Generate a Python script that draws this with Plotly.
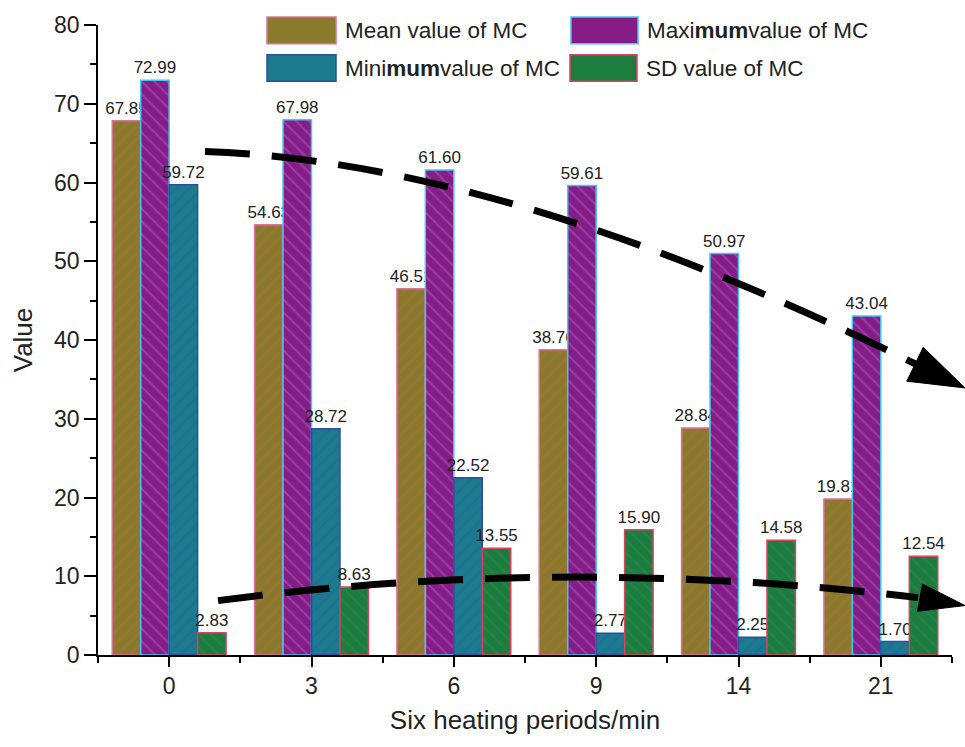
import math
import plotly.graph_objects as go

categories = ["0", "3", "6", "9", "14", "21"]
mean_vals = [67.85, 54.63, 46.51, 38.76, 28.84, 19.81]
max_vals = [72.99, 67.98, 61.60, 59.61, 50.97, 43.04]
min_vals = [59.72, 28.72, 22.52, 2.77, 2.25, 1.70]
sd_vals = [2.83, 8.63, 13.55, 15.90, 14.58, 12.54]
series_names = ["Mean value of MC", "Maximum value of MC", "Minimum value of MC", "SD value of MC"]
legend_labels = ["Mean value of MC", "Maxi<b>mum</b>value of MC", "Mini<b>mum</b>value of MC", "SD value of MC"]

W, H = 965, 747
L, R, T, B = 98, 13, 18, 92
PW, PH = W - L - R, H - T - B

def px(x, y):
    return (x - L) / PW, (H - B - y) / PH

styles = [
    dict(bg="#8a7a2e", fg="#b86a3a", line="#e070a0", shape="/"),
    dict(bg="#861d86", fg="#a86ad0", line="#40c8f0", shape="\\"),
    dict(bg="#1b7a8c", fg="#2a5fa8", line="#2b4fa0", shape="/"),
    dict(bg="#1d7d3e", fg="#2a8a5a", line="#e04060", shape="\\"),
]

xs = list(range(len(categories)))
fig = go.Figure()
for name, vals, st in zip(series_names, [mean_vals, max_vals, min_vals, sd_vals], styles):
    fig.add_trace(go.Bar(
        x=xs, y=vals, name=name,
        marker=dict(color=st["bg"], line=dict(color=st["line"], width=1.5),
                    pattern=dict(shape=st["shape"], fgcolor=st["fg"], size=9,
                                 solidity=0.2, fillmode="overlay")),
        text=[f"{v:.2f}" for v in vals], textposition="outside",
        textfont=dict(size=17, color="#222222", family="Liberation Sans"),
        constraintext="none", cliponaxis=False, showlegend=False,
    ))

shapes = []
annotations = []

# manual legend (2 x 2)
leg = [(267, 10, 336, 37), (571, 10, 638, 37), (267, 48, 336, 75), (570, 48, 637, 75)]
for (x0, y0, x1, y1), label, st in zip(leg, legend_labels, styles):
    a0 = px(x0, y1); a1 = px(x1, y0)
    shapes.append(dict(type="rect", xref="paper", yref="paper", x0=a0[0], y0=a0[1], x1=a1[0], y1=a1[1],
                       fillcolor=st["bg"], line=dict(color=st["line"], width=1.5)))
    tx, ty = px(x1 + 7, (y0 + y1) / 2)
    annotations.append(dict(xref="paper", yref="paper", x=tx, y=ty, xanchor="left", yanchor="middle",
                            text=label, showarrow=False,
                            font=dict(size=22.5, color="#222222", family="Liberation Sans")))

# trend arrows (decoration)
def quad_path(p0, c, p2):
    a = px(*p0); b = px(*c); d = px(*p2)
    return f"M{a[0]},{a[1]} Q{b[0]},{b[1]} {d[0]},{d[1]}"

def head(base, tip, hw):
    dx, dy = tip[0] - base[0], tip[1] - base[1]
    n = math.hypot(dx, dy)
    nx, ny = -dy / n, dx / n
    p1 = (base[0] + nx * hw, base[1] + ny * hw)
    p2 = (base[0] - nx * hw, base[1] - ny * hw)
    pts = [px(*p1), px(*tip), px(*p2)]
    return f"M{pts[0][0]},{pts[0][1]} L{pts[1][0]},{pts[1][1]} L{pts[2][0]},{pts[2][1]} Z"

shapes.append(dict(type="path", xref="paper", yref="paper",
                   path=quad_path((205, 146), (505, 156), (918, 362)),
                   line=dict(color="black", width=7, dash="45px,22px")))
shapes.append(dict(type="path", xref="paper", yref="paper", path=head((915, 361), (965, 385), 19),
                   fillcolor="black", line=dict(color="black", width=1)))
shapes.append(dict(type="path", xref="paper", yref="paper",
                   path=quad_path((218, 600), (566, 554), (918, 597)),
                   line=dict(color="black", width=7, dash="45px,22px")))
shapes.append(dict(type="path", xref="paper", yref="paper", path=head((920, 597), (965, 605), 14),
                   fillcolor="black", line=dict(color="black", width=1)))

fig.update_layout(
    width=W, height=H,
    margin=dict(l=L, r=R, t=T, b=B),
    paper_bgcolor="white", plot_bgcolor="white",
    barmode="group", bargap=0.2, bargroupgap=0,
    font=dict(family="Liberation Sans", color="#222222"),
    shapes=shapes, annotations=annotations,
    xaxis=dict(range=[-0.5, 5.5], tickmode="array", tickvals=xs, ticktext=categories,
               showline=True, linecolor="black", linewidth=1.5, ticks="outside", ticklen=10,
               tickwidth=1.5, tickcolor="black", showgrid=False, zeroline=False,
               tickfont=dict(size=23),
               minor=dict(tickvals=[i - 0.5 for i in range(7)], ticks="outside", ticklen=6,
                          tickwidth=1.5, tickcolor="black", showgrid=False),
               title=dict(text="Six heating periods/min", font=dict(size=26), standoff=12)),
    yaxis=dict(range=[0, 80], dtick=10, showline=True, linecolor="black", linewidth=1.5,
               ticks="outside", ticklen=12, tickwidth=1.5, tickcolor="black",
               showgrid=False, zeroline=False, tickfont=dict(size=23),
               minor=dict(dtick=5, ticks="outside", ticklen=6, tickwidth=1.5, tickcolor="black", showgrid=False),
               title=dict(text="Value", font=dict(size=26), standoff=14)),
)

fig.write_html("out.html")
